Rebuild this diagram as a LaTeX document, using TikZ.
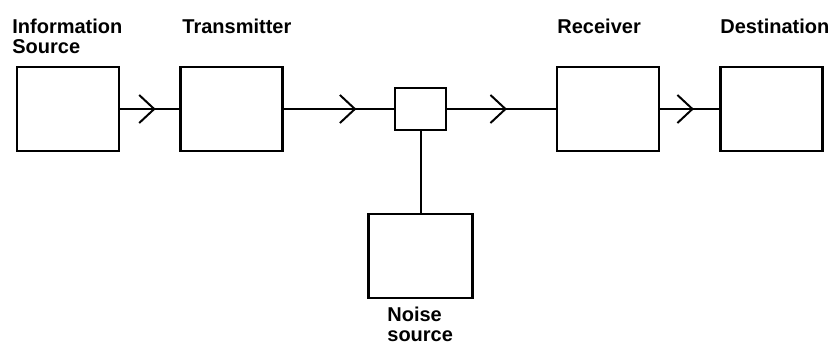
\documentclass[tikz,border=0pt]{standalone}
\usepackage{fontspec}
\setmainfont{Liberation Sans}
\usetikzlibrary{arrows.meta,decorations.markings}

\tikzset{
  blk/.style={draw, line width=1.2pt, minimum width=51pt, minimum height=42pt, inner sep=0pt},
  lbl/.style={font=\bfseries\fontsize{10}{10}\selectfont, inner sep=0pt, align=left},
  flow/.style={line width=1pt, postaction={decorate},
    decoration={markings, mark=at position #1 with {\arrow{Straight Barb[length=7.5pt,width=14pt,line width=1pt]}}}},
}

\begin{document}
\begin{tikzpicture}[x=0.5pt, y=-0.5pt]
        \useasboundingbox (0,0) rectangle (840,349);

        % Blocks
        \node[blk] (src) at (68,109) {};
        \node[blk] (tx) at (231.5,109) {};
        \node[blk, minimum width=25.5pt, minimum height=21pt] (jn) at (420.5,109) {};
        \node[blk] (rx) at (608,109) {};
        \node[blk] (dst) at (771.5,109) {};
        \node[blk, minimum width=52pt] (noise) at (420.5,256) {};

        % Labels
        \node[lbl, anchor=north west] (lsrc) at (12,19) {Information\\Source};
        \node[lbl, anchor=base west] (ltx) at (182,33) {Transmitter};
        \node[lbl, anchor=base west] (lrx) at (557,33) {Receiver};
        \node[lbl, anchor=base west] (ldst) at (720,33) {Destination};
        \node[lbl, anchor=north west] (lnoise) at (387,307) {Noise\\source};

        % Lines
        \draw[flow=0.6] (src) -- (tx);
        \draw[flow=0.66] (tx) -- (jn);
        \draw[flow=0.55] (jn) -- (rx);
        \draw[flow=0.57] (rx) -- (dst);
        \draw[line width=1pt] (jn) -- (noise);
\end{tikzpicture}
\end{document}
